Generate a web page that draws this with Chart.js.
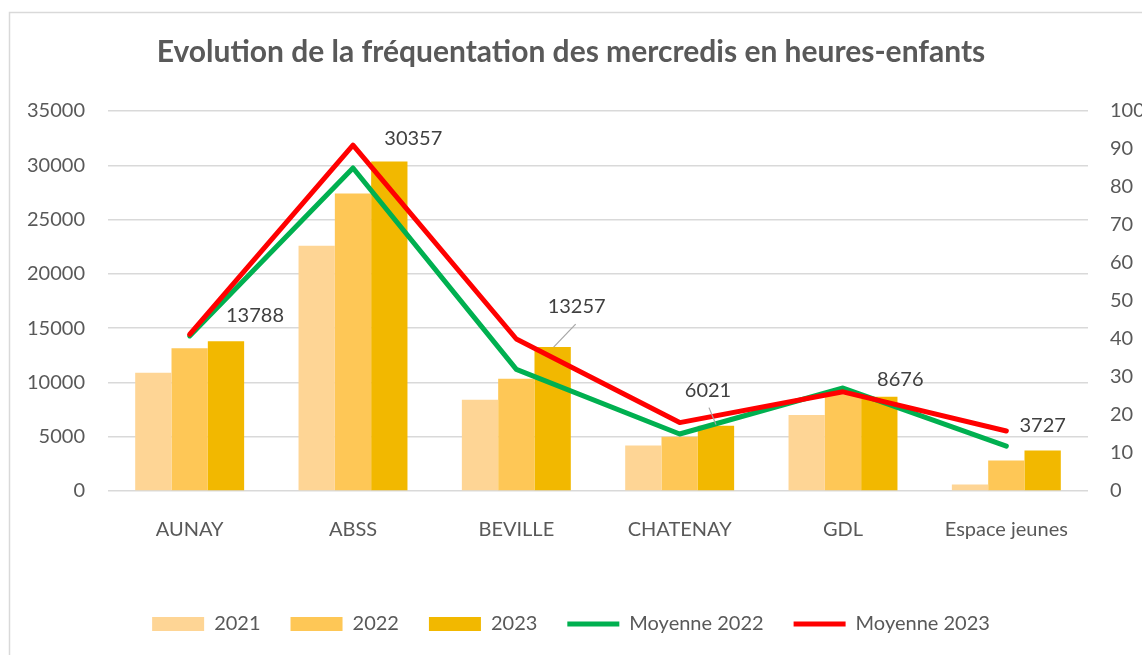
<!DOCTYPE html>
<html>
<head>
<meta charset="utf-8">
<script src="https://cdn.jsdelivr.net/npm/chart.js@4.4.1/dist/chart.umd.min.js"></script>
<style>
  body { margin: 0; background: #fff; }
  canvas { display: block; }
</style>
</head>
<body>
<canvas id="chart" width="1142" height="655"></canvas>
<script>
// data
const categories = ['AUNAY', 'ABSS', 'BEVILLE', 'CHATENAY', 'GDL', 'Espace jeunes'];
const hours2021 = [10900, 22600, 8400, 4200, 7000, 600];
const hours2022 = [13150, 27400, 10350, 5000, 8900, 2800];
const hours2023 = [13788, 30357, 13257, 6021, 8676, 3727];
const moyenne2022 = [40.8, 85, 32, 15, 27.1, 11.8];
const moyenne2023 = [41.2, 91, 40, 18, 26.1, 15.8];

// where the 2023 value labels sit, relative to the top of their bar
const labelOffsets = [[29, -26], [24, -23], [24, -41], [-8, -35], [21, -17], [0, -25]];
const leaderLines = { 2: [[1, 0], [23, -23]], 3: [[0, -1], [-7, -18]] };

const textColor = '#595959';
const fontFamily = "Lato, 'Open Sans', sans-serif";

const frame = {
    id: 'frame',
    beforeDraw(chart) {
        const ctx = chart.ctx;
        ctx.save();
        ctx.fillStyle = '#fff';
        ctx.fillRect(0, 0, chart.width, chart.height);
        ctx.strokeStyle = '#d9d9d9';
        ctx.lineWidth = 1.5;
        ctx.strokeRect(9.5, 12.5, 1300, 700);
        ctx.restore();
    }
};

const valueLabels = {
    id: 'valueLabels',
    afterDatasetsDraw(chart) {
        const ctx = chart.ctx;
        const meta = chart.getDatasetMeta(2);
        ctx.save();
        ctx.font = '20px ' + fontFamily;
        ctx.fillStyle = '#404040';
        ctx.textAlign = 'center';
        ctx.textBaseline = 'middle';
        meta.data.forEach((bar, i) => {
            const off = labelOffsets[i];
            const lead = leaderLines[i];
            if (lead) {
                ctx.strokeStyle = '#a6a6a6';
                ctx.lineWidth = 1.2;
                ctx.beginPath();
                ctx.moveTo(bar.x + lead[0][0], bar.y + lead[0][1]);
                ctx.lineTo(bar.x + lead[1][0], bar.y + lead[1][1]);
                ctx.stroke();
            }
            ctx.fillText(String(hours2023[i]), bar.x + off[0], bar.y + off[1]);
        });
        ctx.restore();
    }
};

new Chart(document.getElementById('chart').getContext('2d'), {
    data: {
        labels: categories,
        datasets: [
            { type: 'bar', label: '2021', data: hours2021, backgroundColor: '#FED595', pointStyle: 'rect', order: 1 },
            { type: 'bar', label: '2022', data: hours2022, backgroundColor: '#FEC756', pointStyle: 'rect', order: 2 },
            { type: 'bar', label: '2023', data: hours2023, backgroundColor: '#F2B800', pointStyle: 'rect', order: 3 },
            { type: 'line', label: 'Moyenne 2022', data: moyenne2022, yAxisID: 'y1',
              borderColor: '#00B050', backgroundColor: '#00B050', borderWidth: 5,
              borderCapStyle: 'round', borderJoinStyle: 'round',
              pointRadius: 0, pointStyle: 'line', tension: 0, order: 0 },
            { type: 'line', label: 'Moyenne 2023', data: moyenne2023, yAxisID: 'y1',
              borderColor: '#FF0000', backgroundColor: '#FF0000', borderWidth: 5,
              borderCapStyle: 'round', borderJoinStyle: 'round',
              pointRadius: 0, pointStyle: 'line', tension: 0, order: -1 }
        ]
    },
    options: {
        responsive: false,
        animation: false,
        datasets: {
            bar: { categoryPercentage: 0.667, barPercentage: 1, borderWidth: 0 }
        },
        layout: { padding: { top: 0, left: 0, right: 0, bottom: 11 } },
        plugins: {
            title: {
                display: true,
                text: 'Evolution de la fréquentation des mercredis en heures-enfants',
                color: textColor,
                font: { family: fontFamily, size: 30, weight: 'bold' },
                padding: { top: 34, bottom: 41 }
            },
            legend: {
                position: 'bottom',
                labels: {
                    usePointStyle: true,
                    pointStyleWidth: 52,
                    boxHeight: 14,
                    padding: 30,
                    color: textColor,
                    font: { family: fontFamily, size: 20 },
                    sort: (a, b) => a.datasetIndex - b.datasetIndex
                }
            },
            tooltip: { enabled: false }
        },
        scales: {
            x: {
                grid: { display: false },
                border: { display: false },
                ticks: { color: textColor, font: { family: fontFamily, size: 20 }, padding: 19 },
                afterFit: (axis) => { axis.height = 93; }
            },
            y: {
                position: 'left',
                min: 0,
                max: 35000,
                ticks: {
                    stepSize: 5000,
                    color: textColor,
                    font: { family: fontFamily, size: 20 },
                    padding: 23,
                    callback: (v) => String(v)
                },
                grid: { color: '#d9d9d9', lineWidth: 1.5, drawTicks: false },
                border: { display: false },
                afterFit: (axis) => { axis.width = 108; }
            },
            y1: {
                position: 'right',
                min: 0,
                max: 100,
                ticks: {
                    stepSize: 10,
                    color: textColor,
                    font: { family: fontFamily, size: 20 },
                    padding: 22
                },
                grid: { display: false, drawTicks: false },
                border: { display: false },
                afterFit: (axis) => { axis.width = 54; }
            }
        }
    },
    plugins: [frame, valueLabels]
});
</script>
</body>
</html>
